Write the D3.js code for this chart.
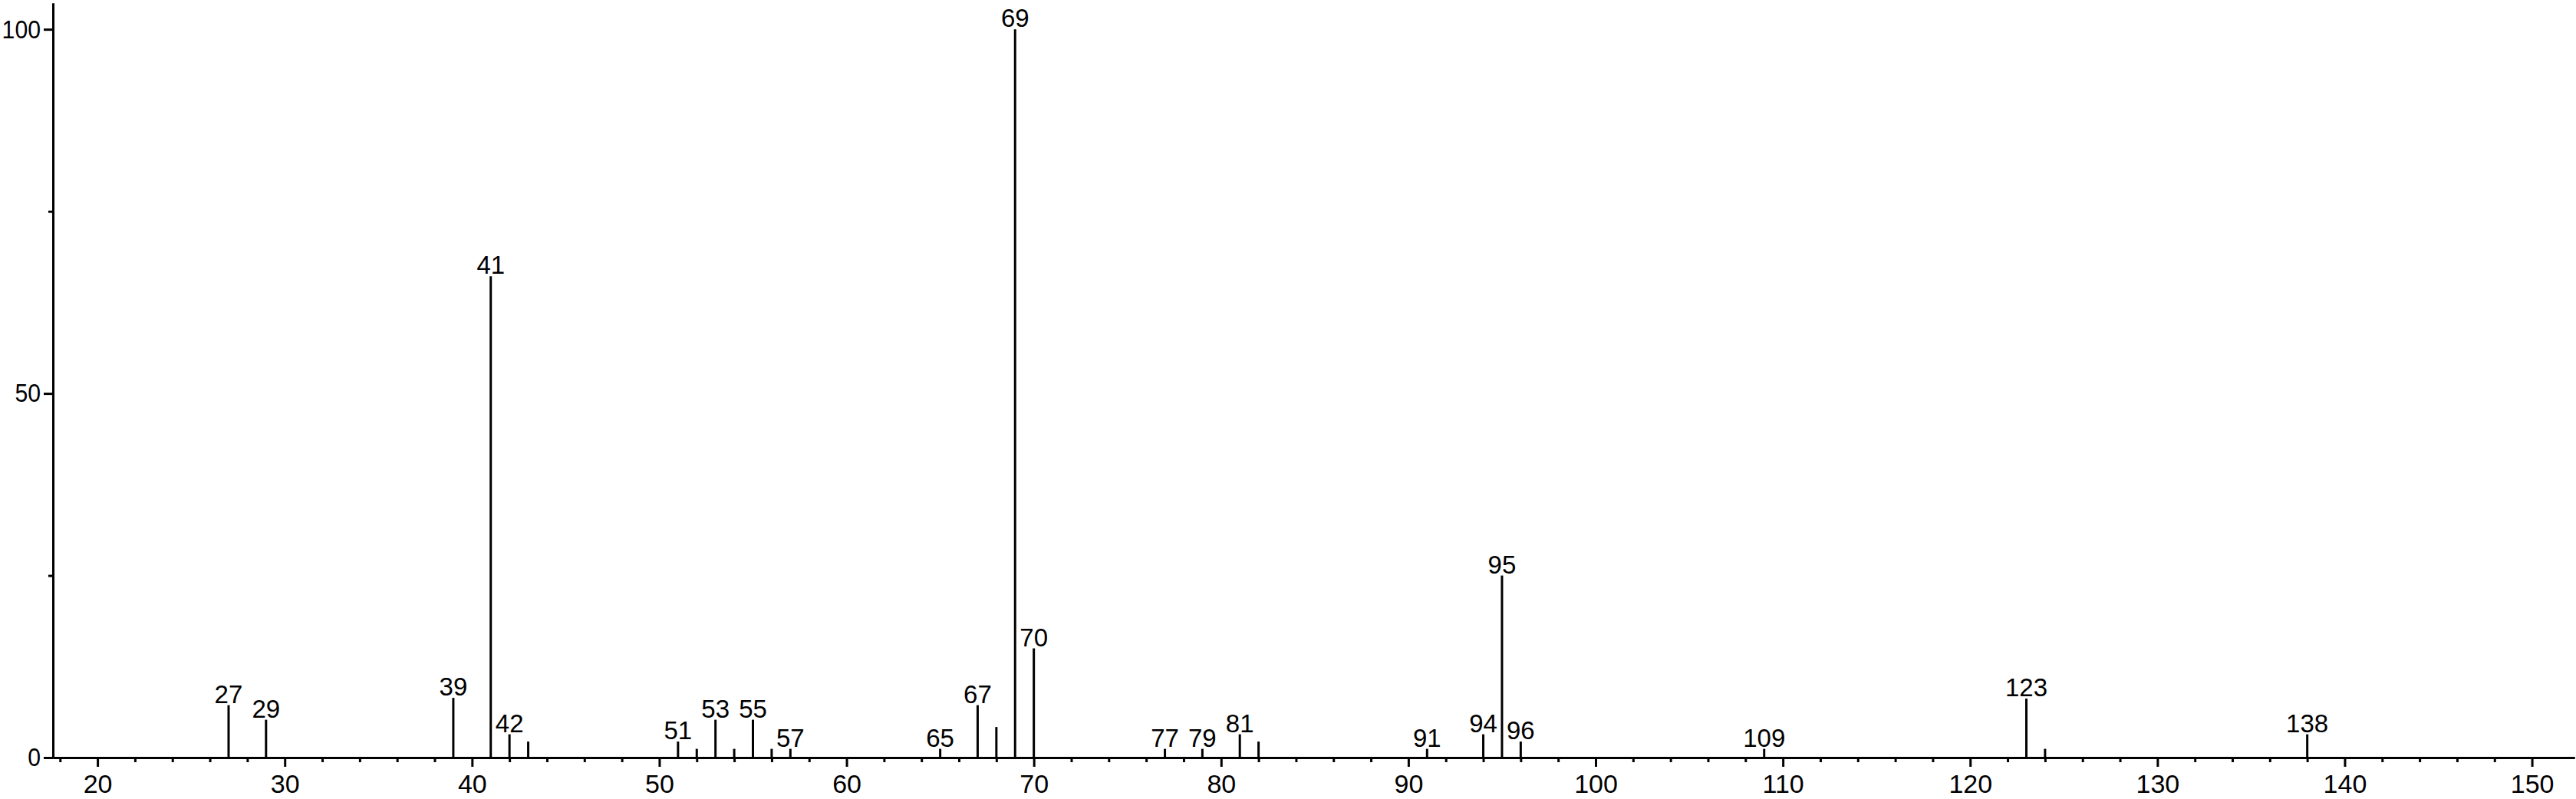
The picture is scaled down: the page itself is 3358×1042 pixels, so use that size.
<!DOCTYPE html>
<html>
<head>
<meta charset="utf-8">
<script src="https://cdn.jsdelivr.net/npm/d3@7"></script>
<style>
  html, body { margin: 0; padding: 0; background: #fff; }
  svg { display: block; }
  text { font-family: "Liberation Sans", Arial, sans-serif; fill: #000; }
</style>
</head>
<body>
<script>
// m/z values of the peaks
const masses = [27, 29, 39, 41, 42, 43, 51, 52, 53, 54, 55, 56, 57, 65, 67, 68, 69, 70, 77, 79, 81, 82, 91, 94, 95, 96, 109, 123, 124, 138];
// relative intensities (%)
const intensities = [7.2, 5.2, 8.2, 66.1, 3.2, 2.2, 2.2, 1.2, 5.2, 1.2, 5.2, 1.2, 1.2, 1.2, 7.2, 4.2, 100, 15.0, 1.2, 1.2, 3.2, 2.2, 1.2, 3.2, 25.0, 2.2, 1.2, 8.1, 1.2, 3.2];
// peaks that carry a label
const labeledMasses = [27, 29, 39, 41, 42, 51, 53, 55, 57, 65, 67, 69, 70, 77, 79, 81, 91, 94, 95, 96, 109, 123, 138];
// axis ticks
const xMajorTicks = [20, 30, 40, 50, 60, 70, 80, 90, 100, 110, 120, 130, 140, 150];
const xMinorTicks = d3.range(18, 152, 2).filter(v => v % 10 !== 0);
const yMajorTicks = [0, 50, 100];
const yMinorTicks = [25, 75];

const W = 3358, H = 1042;
const mLeft = 69, mRight = 3356, mTop = 4, mBottom = 988;

const x = d3.scaleLinear().domain([17.62, 152.27]).range([mLeft, mRight]);
const y = d3.scaleLinear().domain([0, 103.6]).range([mBottom, mTop]);

const svg = d3.select("body").append("svg").attr("width", W).attr("height", H);

const data = masses.map((m, i) => ({ m, v: intensities[i] }));

// peaks
svg.append("g").selectAll("line").data(data).join("line")
  .attr("x1", d => x(d.m)).attr("x2", d => x(d.m))
  .attr("y1", y(0)).attr("y2", d => y(d.v))
  .attr("stroke", "#000").attr("stroke-width", 3);

// labels
svg.append("g").selectAll("text").data(data.filter(d => labeledMasses.includes(d.m))).join("text")
  .attr("x", d => x(d.m)).attr("y", d => y(d.v) - 3)
  .attr("text-anchor", "middle")
  .style("font-size", "33px")
  .text(d => d.m);

function styleAxis(g) {
  g.select(".domain").attr("stroke", "#000").attr("stroke-width", 3);
  g.selectAll(".tick line").attr("stroke", "#000").attr("stroke-width", 3);
  g.selectAll(".tick text").style("font-family", '"Liberation Sans", Arial, sans-serif').style("font-size", "34px").attr("fill", "#000");
}

// x axis
const gxMinor = svg.append("g").attr("transform", `translate(0,${mBottom})`)
  .call(d3.axisBottom(x).tickValues(xMinorTicks).tickSize(6).tickSizeOuter(0).tickFormat(""));
styleAxis(gxMinor);
const gx = svg.append("g").attr("transform", `translate(0,${mBottom})`)
  .call(d3.axisBottom(x).tickValues(xMajorTicks).tickSize(12).tickSizeOuter(0).tickPadding(10).tickFormat(d3.format("d")));
styleAxis(gx);

// y axis
const gyMinor = svg.append("g").attr("transform", `translate(${mLeft},0)`)
  .call(d3.axisLeft(y).tickValues(yMinorTicks).tickSize(6).tickSizeOuter(0).tickFormat(""));
styleAxis(gyMinor);
const gy = svg.append("g").attr("transform", `translate(${mLeft},0)`)
  .call(d3.axisLeft(y).tickValues(yMajorTicks).tickSize(12).tickSizeOuter(0).tickPadding(4).tickFormat(d3.format("d")));
styleAxis(gy);
gy.selectAll(".tick text")
  .attr("textLength", d => String(d).length * 16.8)
  .attr("lengthAdjust", "spacingAndGlyphs");
</script>
</body>
</html>
